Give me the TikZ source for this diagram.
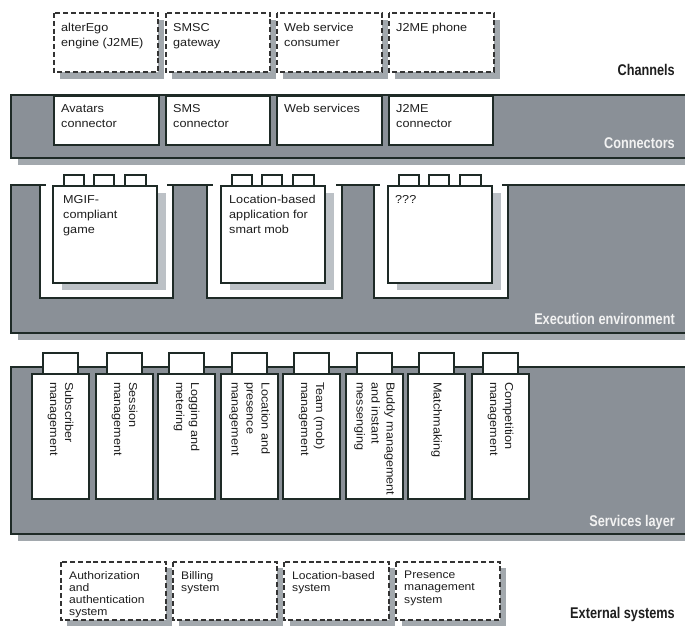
\documentclass[tikz,border=0pt]{standalone}
\usepackage{fontspec}
\setmainfont{Liberation Sans}[FakeStretch=1.1]
\newfontfamily\labelfont{Liberation Sans}[FakeStretch=0.82]
\definecolor{bandgray}{RGB}{138,144,151}
\definecolor{shadowgray}{RGB}{162,168,173}
\definecolor{lightshadow}{RGB}{188,193,198}
\definecolor{darkline}{RGB}{30,42,38}
\definecolor{txt}{RGB}{30,30,30}
\definecolor{labwhite}{RGB}{242,242,242}
\begin{document}
\begin{tikzpicture}[x=1pt,y=-1pt,
  body/.style={font=\fontsize{11.5}{15}\selectfont, text=txt, inner sep=0pt, anchor=north west, align=left},
  extbody/.style={font=\fontsize{11}{12.2}\selectfont, text=txt, inner sep=0pt, anchor=north west, align=left},
  svcbody/.style={font=\fontsize{11.5}{15}\selectfont, text=txt, inner sep=0pt, anchor=west, align=left, rotate=-90},
  lab/.style={font=\labelfont\bfseries\fontsize{15.5}{18}\selectfont, inner sep=0pt, anchor=base east},
  dashbox/.style={draw=black!80, line width=1.6pt, dash pattern=on 5pt off 2.8pt, fill=white},
  bandline/.style={draw=darkline, line width=2pt},
  wallline/.style={draw=darkline, line width=1.6pt},
  solidbox/.style={draw=darkline, line width=1.4pt, fill=white},
  tabbox/.style={draw=darkline, line width=1.2pt, fill=white}
]
\useasboundingbox (0,0) rectangle (685,626);

% ---------------- Channels ----------------
\foreach \a/\b in {54/158,166/270,277/382,389/494}{
  \fill[shadowgray] (\a+6,20) rectangle (\b+6,79);
}
\foreach \a/\b in {54/158,166/270,277/382,389/494}{
  \draw[dashbox] (\a,13) rectangle (\b,72);
}
\node[body] (ch1) at (61,23) {alterEgo\\engine (J2ME)};
\node[body] (ch2) at (173,23) {SMSC\\gateway};
\node[body] (ch3) at (284,23) {Web service\\consumer};
\node[body] (ch4) at (396,23) {J2ME phone};
\node[lab, text=txt] (lchan) at (675,75) {Channels};

% ---------------- Connectors ----------------
\fill[shadowgray] (18,158) rectangle (685,165);
\fill[bandgray] (11,95) rectangle (685,158);
\draw[bandline] (685,95) -- (11,95) -- (11,158) -- (685,158);
\foreach \a/\b in {54/159,166/270,277/382,389/493}{
  \draw[solidbox] (\a,96) rectangle (\b,145);
}
\node[body] (co1) at (61,104) {Avatars\\connector};
\node[body] (co2) at (173,104) {SMS\\connector};
\node[body] (co3) at (284,104) {Web services};
\node[body] (co4) at (396,104) {J2ME\\connector};
\node[lab, text=labwhite] (lconn) at (675,148) {Connectors};

% ---------------- Execution environment ----------------
\fill[shadowgray] (18,333) rectangle (685,340);
\fill[bandgray] (11,185) rectangle (685,333);
\foreach \a/\b in {40/173,207/342,374/508}{
  \fill[white] (\a,183) rectangle (\b,298);
  \draw[wallline] (\a,185) -- (\a,298) -- (\b,298) -- (\b,185);
}
\draw[bandline] (11,185) -- (46,185);
\draw[bandline] (167,185) -- (213,185);
\draw[bandline] (336,185) -- (380,185);
\draw[bandline] (502,185) -- (685,185);
\draw[bandline] (11,184) -- (11,333) -- (685,333);
\foreach \a in {53,221,388}{
  \fill[lightshadow] (\a+9,193) rectangle (\a+113,290);
  \draw[tabbox] (\a+11,175) rectangle (\a+31,186);
  \draw[tabbox] (\a+41,175) rectangle (\a+61,186);
  \draw[tabbox] (\a+72,175) rectangle (\a+93,186);
  \draw[solidbox] (\a,186) rectangle (\a+104,283);
}
\node[body] (ap1) at (63,195) {MGIF-\\compliant\\game};
\node[body] (ap2) at (229,195) {Location-based\\application for\\smart mob};
\node[body] (ap3) at (395,195) {???};
\node[lab, text=labwhite] (lexec) at (675,324) {Execution environment};

% ---------------- Services layer ----------------
\fill[shadowgray] (18,534) rectangle (685,541);
\fill[bandgray] (11,367) rectangle (685,534);
\draw[bandline] (685,367) -- (11,367) -- (11,534) -- (685,534);
\foreach \a in {32,96,158,221,283,346,408,472}{
  \draw[tabbox] (\a+11,353) rectangle (\a+46,374);
  \draw[solidbox] (\a,374) rectangle (\a+57,499);
}
\node[svcbody] (s1) at (60.5,382) {Subscriber\\management};
\node[svcbody] (s2) at (124.5,382) {Session\\management};
\node[svcbody] (s3) at (186.5,382) {Logging and\\metering};
\node[svcbody] (s4) at (249.5,382) {Location and\\presence\\management};
\node[svcbody] (s5) at (311.5,382) {Team (mob)\\management};
\node[svcbody] (s6) at (374.5,382) {Buddy management\\and instant\\messenging};
\node[svcbody] (s7) at (436.5,382) {Matchmaking};
\node[svcbody] (s8) at (500.5,382) {Competition\\management};
\node[lab, text=labwhite] (lsvc) at (675,526) {Services layer};

% ---------------- External systems ----------------
\foreach \a/\b in {61/166,173/277,284/389,396/500}{
  \fill[shadowgray] (\a+6,568) rectangle (\b+6,630);
}
\foreach \a/\b in {61/166,173/277,284/389,396/500}{
  \draw[dashbox] (\a,562) rectangle (\b,620);
}
\node[extbody] (e1) at (69,571) {Authorization\\and\\authentication\\system};
\node[extbody] (e2) at (181,571) {Billing\\system};
\node[extbody] (e3) at (292,571) {Location-based\\system};
\node[extbody] (e4) at (404,571) {Presence\\management\\system};
\node[lab, text=txt] (lext) at (675,618) {External systems};
\end{tikzpicture}
\end{document}
